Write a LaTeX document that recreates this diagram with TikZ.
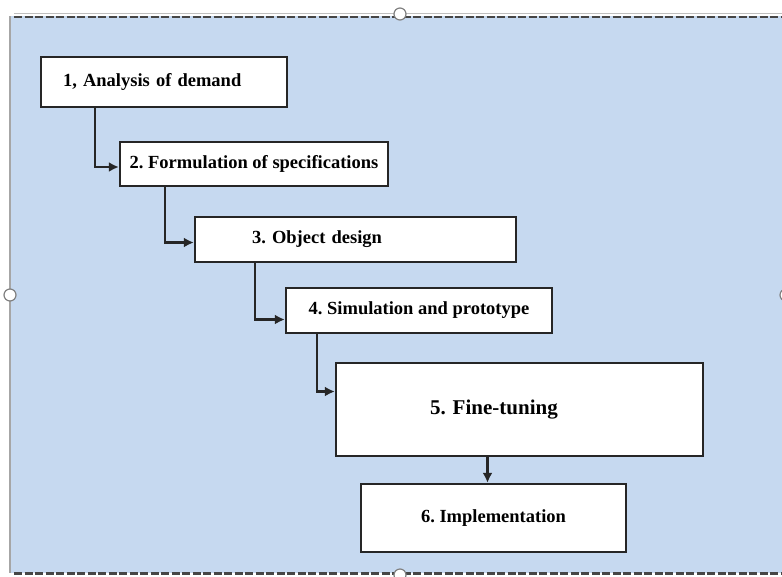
\documentclass[tikz,border=0pt]{standalone}
\usepackage{fontspec}
\setmainfont{Liberation Serif}
\usetikzlibrary{arrows.meta}
\definecolor{sheet}{RGB}{198,217,240}
\definecolor{frame}{RGB}{70,70,70}

\begin{document}
\frenchspacing
\begin{tikzpicture}[x=1pt,y=-1pt,
  stage/.style={draw=black!85,fill=white,line width=2.4pt,inner ysep=0pt,
    font=\fontsize{18.5}{22}\selectfont\bfseries},
  flow/.style={draw=black!85,line width=2.6pt,-{Latex[length=10pt,width=10pt]}},
  handle/.style={draw=gray,fill=white,line width=1.2pt}]
\useasboundingbox (0,0) rectangle (782,576);
% sheet behind the chart
\fill[sheet] (10,16) rectangle (782,573);
\draw[gray!70,line width=1.5pt] (10,16) -- (10,573);
\draw[gray!50,line width=1pt] (14,13.5) -- (782,13.5);
\draw[frame,line width=2.4pt,dash pattern=on 8pt off 2.5pt] (14,17) -- (782,17);
\draw[frame,line width=2.4pt,dash pattern=on 8pt off 2.5pt] (14,573.5) -- (782,573.5);
\draw[handle] (400,14) circle (6);
\draw[handle] (10,295) circle (6);
\draw[handle] (786,295) circle (6);
\draw[handle] (400,575) circle (6);

\node (analysis) [stage,minimum height=50,text width=202,inner xsep=22,align=left]
  at (164,82) {1, Analysis of demand};
\node (spec) [stage,minimum width=268,minimum height=44] at (254,164)
  {2. Formulation of specifications};
\node (obj-design) [stage,minimum height=45,text width=207,inner xsep=57,align=left]
  at (355.5,239.5) {3. Object design};
\node (sim-proto) [stage,minimum width=266,minimum height=45] at (419,310.5)
  {4. Simulation and prototype};
\node (fine-tune) [stage,minimum height=93,text width=179,inner xsep=94,align=left,
  font=\fontsize{21}{25}\selectfont\bfseries] at (519.5,409.5) {5. Fine-tuning};
\node (impl) [stage,minimum width=265,minimum height=68] at (493.5,518)
  {6. Implementation};
\coordinate (impl-in) at ([xshift=-6pt]impl.north);

\draw[flow] ([xshift=55pt]analysis.south west) |- ([yshift=-3pt]spec.west);
\draw[flow] ([xshift=46pt]spec.south west) |- ([yshift=-3pt]obj-design.west);
\draw[flow] ([xshift=61pt]obj-design.south west) |- ([yshift=-9pt]sim-proto.west);
\draw[flow] ([xshift=32pt]sim-proto.south west) |- ([yshift=18pt]fine-tune.west);
\draw[flow] (impl-in |- fine-tune.south) -- (impl-in);
\end{tikzpicture}
\end{document}
